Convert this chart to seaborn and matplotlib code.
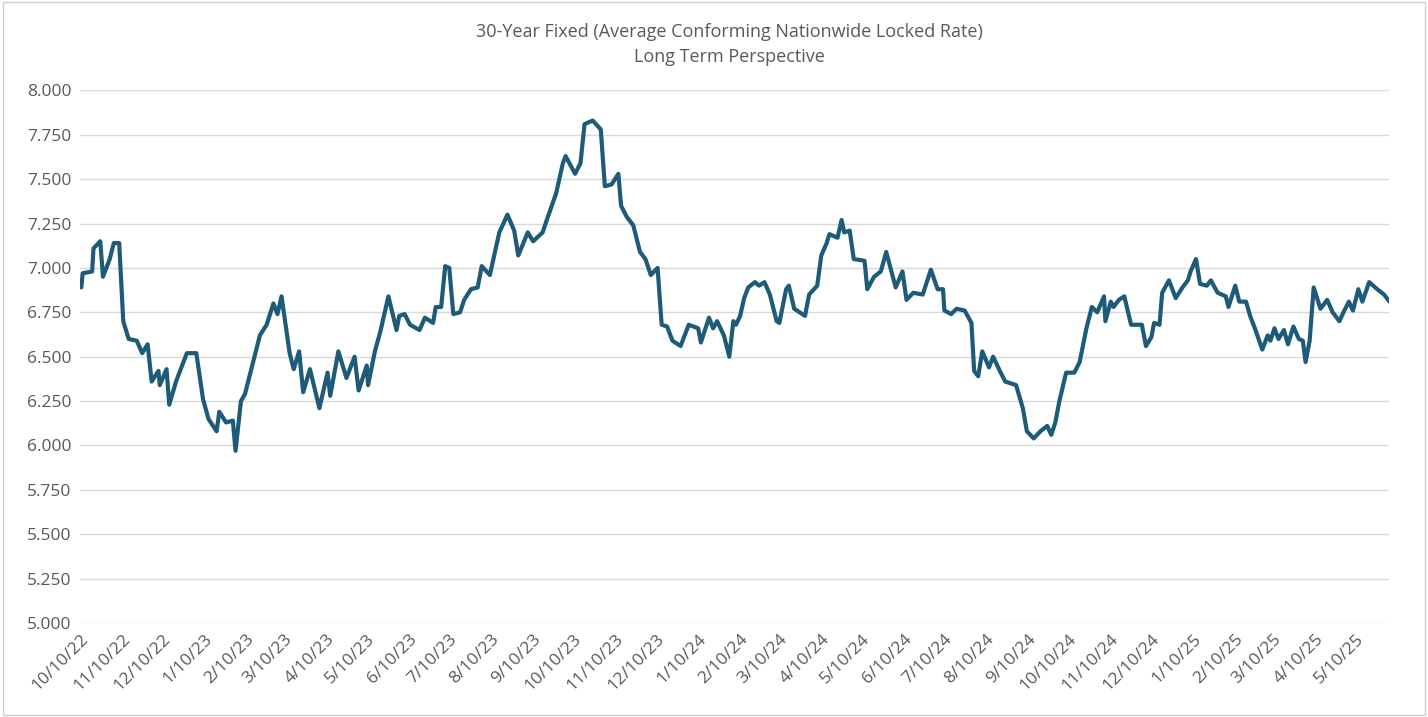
import numpy as np
import pandas as pd
import matplotlib
matplotlib.use("Agg")
import matplotlib.pyplot as plt
from matplotlib.ticker import FormatStrFormatter
import seaborn as sns

START = pd.Timestamp("2022-10-10")

# days since 10/10/22
days = [
    1, 2, 9, 10, 15, 17, 22, 25, 29, 32, 36, 42, 46, 50, 53, 58, 59, 64, 66, 71,
    79, 86, 91, 95, 101, 103, 108, 113, 115, 119, 122, 128, 133, 138, 143, 146, 149,
    155, 158, 162, 165, 170, 177, 183, 185, 191, 197, 203, 206, 212, 213, 218, 222,
    228, 234,
    236, 240, 244, 251, 255, 261, 263, 267, 270, 273, 276, 281, 284, 289, 294, 297,
    303, 310, 316, 321, 324, 331, 335, 342, 346, 352, 357, 359, 366, 370, 373, 379,
    385, 388, 393, 398, 400, 404, 409, 414, 418, 422, 427, 430, 434, 438, 444, 450,
    457, 459, 465, 468, 471, 476,
    480, 483, 485, 488, 491, 494, 499, 502, 506, 510, 515, 517, 522, 524, 528, 536,
    539, 545, 548, 552, 554, 560, 563, 565, 569, 572, 580, 582, 587, 592, 596, 603,
    608, 611, 616, 623, 629, 634, 638, 639, 644, 648, 654, 659, 661, 664, 667, 672,
    675, 680, 684, 688, 692, 697, 700, 705, 710, 715, 718, 721,
    724, 729, 735, 739, 744, 748, 752, 757, 758, 762, 764, 768, 772, 777, 785, 788,
    792, 794, 798, 800, 805, 810, 815, 819, 821, 825, 828, 833, 836, 841, 847, 849,
    854, 857, 862, 865, 869, 874, 878, 880, 883, 886, 890, 893, 897, 901, 904, 906,
    909, 912, 917, 922, 926, 931, 934, 938, 941, 945, 948, 953, 959, 964, 968,
]

rates = [
    6.89, 6.97, 6.98, 7.11, 7.15, 6.95, 7.05, 7.14, 7.14, 6.70, 6.60, 6.59, 6.52, 6.57,
    6.36, 6.42, 6.34, 6.43, 6.23, 6.36, 6.52, 6.52, 6.26, 6.15, 6.08, 6.19, 6.13, 6.14,
    5.97, 6.25, 6.29, 6.47, 6.62, 6.68, 6.80, 6.74, 6.84, 6.52, 6.43, 6.53, 6.30, 6.43,
    6.21, 6.41, 6.28, 6.53, 6.38, 6.50, 6.31, 6.45, 6.34, 6.53, 6.64, 6.84, 6.65,
    6.73, 6.74, 6.68, 6.65, 6.72, 6.69, 6.78, 6.78, 7.01, 7.00, 6.74, 6.75, 6.82, 6.88,
    6.89, 7.01, 6.96, 7.20, 7.30, 7.21, 7.07, 7.20, 7.15, 7.20, 7.29, 7.42, 7.59, 7.63,
    7.53, 7.59, 7.81, 7.83, 7.78, 7.46, 7.47, 7.53, 7.35, 7.29, 7.24, 7.09, 7.05, 6.96,
    7.00, 6.68, 6.67, 6.59, 6.56, 6.68, 6.66, 6.58, 6.72, 6.66, 6.70, 6.62,
    6.50, 6.70, 6.68, 6.73, 6.83, 6.89, 6.92, 6.90, 6.92, 6.85, 6.70, 6.69, 6.88, 6.90,
    6.77, 6.73, 6.85, 6.90, 7.07, 7.14, 7.19, 7.17, 7.27, 7.20, 7.21, 7.05, 7.04, 6.88,
    6.95, 6.98, 7.09, 6.89, 6.98, 6.82, 6.86, 6.85, 6.99, 6.88, 6.88, 6.76, 6.74, 6.77,
    6.76, 6.69, 6.42, 6.39, 6.53, 6.44, 6.50, 6.42, 6.36, 6.35, 6.34, 6.21, 6.08, 6.04,
    6.08, 6.11, 6.06, 6.13,
    6.25, 6.41, 6.41, 6.47, 6.66, 6.78, 6.75, 6.84, 6.70, 6.81, 6.78, 6.82, 6.84, 6.68,
    6.68, 6.56, 6.61, 6.69, 6.68, 6.86, 6.93, 6.83, 6.89, 6.93, 6.98, 7.05, 6.91, 6.90,
    6.93, 6.86, 6.84, 6.78, 6.90, 6.81, 6.81, 6.73, 6.65, 6.54, 6.62, 6.59, 6.66, 6.60,
    6.65, 6.57, 6.67, 6.60, 6.59, 6.47, 6.59, 6.89, 6.77, 6.82, 6.75, 6.70, 6.75, 6.81,
    6.76, 6.88, 6.81, 6.92, 6.88, 6.85, 6.81,
]

df = pd.DataFrame({"date": START + pd.to_timedelta(days, unit="D"), "rate": rates})

sns.set_theme(style="whitegrid")
plt.rcParams["font.family"] = ["Open Sans", "DejaVu Sans"]

fig = plt.figure(figsize=(14.28, 7.17), dpi=100)
ax = fig.add_axes([0.056, 0.131, 0.917, 0.743])

sns.lineplot(data=df, x="date", y="rate", ax=ax, color="#1d5b79", linewidth=3)

ax.set_ylim(5.0, 8.0)
ax.set_yticks(np.arange(5.0, 8.01, 0.25))
ax.yaxis.set_major_formatter(FormatStrFormatter("%.3f"))
ax.set_xlim(START, START + pd.Timedelta(days=968))
ticks = pd.date_range("2022-10-01", "2025-05-10", freq="MS") + pd.Timedelta(days=9)
ax.set_xticks(ticks)
ax.set_xticklabels([f"{t.month}/{t.day}/{t.strftime('%y')}" for t in ticks],
                   rotation=45, ha="right", rotation_mode="anchor")
ax.tick_params(axis="both", labelsize=12.5, colors="#595959", length=0, pad=6)
ax.grid(axis="x", visible=False)
ax.grid(axis="y", color="#d9d9d9", linewidth=1)
for s in ax.spines.values():
    s.set_visible(False)
ax.set_xlabel("")
ax.set_ylabel("")

fig.text(0.511, 0.955, "30-Year Fixed (Average Conforming Nationwide Locked Rate)",
         ha="center", va="center", fontsize=13, color="#595959")
fig.text(0.511, 0.920, "Long Term Perspective", ha="center", va="center",
         fontsize=13, color="#595959")

fig.patches.append(plt.Rectangle((0.002, 0.003), 0.996, 0.994, transform=fig.transFigure,
                                 fill=False, edgecolor="#d0d0d0", linewidth=1))

fig.savefig("out.png", dpi=100)
